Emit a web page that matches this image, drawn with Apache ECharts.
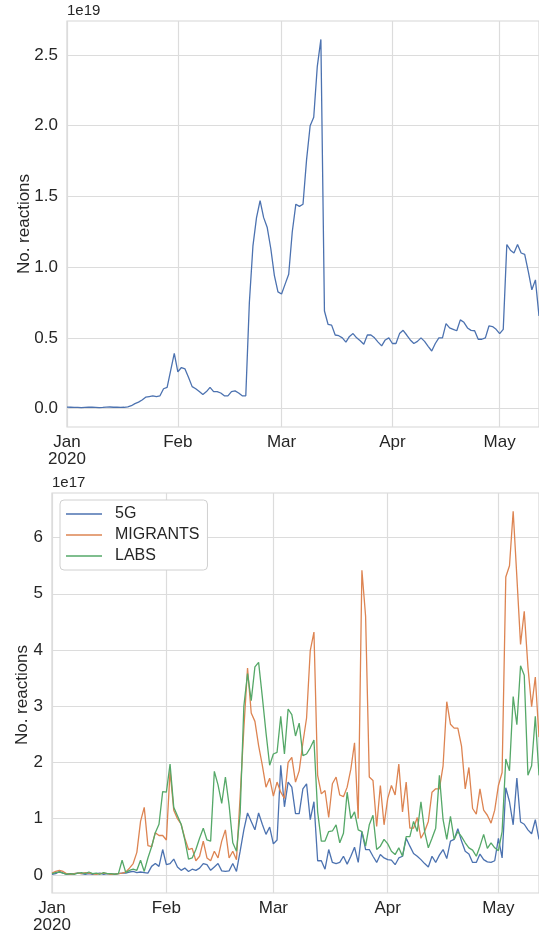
<!DOCTYPE html>
<html>
<head>
<meta charset="utf-8">
<script src="https://cdn.jsdelivr.net/npm/echarts@6/dist/echarts.min.js"></script>
<style>
html, body { margin: 0; padding: 0; background: #fff; }
#main { width: 539px; height: 934px; }
</style>
</head>
<body>
<div id="main"></div>
<script>
// daily values, Jan 1 - May 12 2020 (units: 1e19 on top, 1e17 below)
var total = [
  0.010, 0.009, 0.008, 0.008, 0.007, 0.008, 0.009, 0.009, 0.008, 0.007, 0.008, 0.010, 0.011, 0.009, 0.010, 0.008, 0.009, 0.012,
  0.02, 0.035, 0.045, 0.06, 0.08, 0.085, 0.09, 0.085, 0.09, 0.14, 0.15, 0.27, 0.39, 0.26, 0.29, 0.28,
  0.22, 0.155, 0.14, 0.12, 0.10, 0.12, 0.15, 0.12, 0.12, 0.11, 0.09, 0.09, 0.12, 0.125, 0.11, 0.09, 0.09,
  0.75, 1.15, 1.35, 1.47, 1.35, 1.28, 1.13, 0.94, 0.825, 0.81, 0.88, 0.95, 1.25, 1.445, 1.43, 1.445, 1.76, 2.0, 2.06, 2.42, 2.61,
  0.69, 0.596, 0.59, 0.52, 0.515, 0.50, 0.47, 0.51, 0.53, 0.50, 0.48, 0.455, 0.52, 0.52, 0.50, 0.47, 0.443, 0.485, 0.50, 0.46, 0.46,
  0.53, 0.553, 0.52, 0.485, 0.46, 0.475, 0.50, 0.475, 0.44, 0.407, 0.46, 0.50, 0.50, 0.60, 0.57, 0.56, 0.55, 0.627, 0.61, 0.57,
  0.553, 0.55, 0.49, 0.49, 0.50, 0.584, 0.58, 0.56, 0.53, 0.56, 1.16, 1.12, 1.10, 1.16, 1.10, 1.09, 0.97, 0.84, 0.91, 0.655
];

var fiveG = [
  0.01, 0.02, 0.06, 0.03, 0.01, 0.01, 0.02, 0.03, 0.02, 0.01, 0.02, 0.01, 0.02, 0.03, 0.01, 0.02, 0.01, 0.01,
  0.02, 0.03, 0.03, 0.05, 0.06, 0.04, 0.05, 0.04, 0.03, 0.15, 0.2, 0.15, 0.45, 0.18, 0.2, 0.28, 0.14, 0.08,
  0.12, 0.06, 0.1, 0.08, 0.12, 0.2, 0.18, 0.08, 0.14, 0.2, 0.07, 0.06, 0.07, 0.2, 0.06, 0.42,
  0.8, 1.1, 0.95, 0.8, 1.1, 0.9, 0.72, 0.85, 0.55, 0.62, 1.95, 1.21, 1.65, 1.56, 1.09, 1.09, 1.53, 1.62, 0.98, 1.3,
  0.25, 0.25, 0.1, 0.45, 0.22, 0.2, 0.22, 0.33, 0.19, 0.33, 0.49, 0.22, 0.77, 0.45, 0.45, 0.33, 0.22, 0.36, 0.3, 0.27,
  0.26, 0.18, 0.3, 0.33, 0.65, 0.51, 0.38, 0.33, 0.27, 0.2, 0.14, 0.33, 0.22, 0.35, 0.45, 0.29, 0.6, 0.63, 0.82, 0.6, 0.42, 0.37,
  0.22, 0.22, 0.37, 0.27, 0.23, 0.22, 0.25, 0.65, 0.3, 1.55, 1.3, 0.89, 1.72, 0.94, 0.9, 0.8, 0.73, 0.98, 0.63
];

var migrants = [
  0.03, 0.06, 0.08, 0.06, 0.02, 0.01, 0.02, 0.03, 0.02, 0.04, 0.03, 0.02, 0.01, 0.02, 0.03, 0.02, 0.01, 0.01,
  0.02, 0.03, 0.05, 0.12, 0.2, 0.4, 0.95, 1.2, 0.52, 0.5, 0.75, 0.7, 0.7, 0.62, 1.85, 1.15, 1.0, 0.9,
  0.65, 0.45, 0.47, 0.25, 0.33, 0.6, 0.3, 0.25, 0.42, 0.3, 0.6, 0.8, 0.3, 0.42, 0.27, 1.4,
  2.6, 3.68, 2.88, 2.73, 2.3, 1.95, 1.56, 1.72, 1.4, 1.65, 1.47, 1.36, 2.0, 2.09, 1.65, 1.85, 2.35, 2.79, 3.99, 4.32,
  1.77, 1.44, 1.5, 1.02, 1.62, 1.74, 1.42, 1.39, 1.56, 1.88, 2.35, 1.0, 5.42, 4.6, 1.74, 1.68, 0.86, 1.59, 0.89, 1.36,
  1.59, 1.42, 1.97, 1.12, 1.65, 0.83, 0.83, 1.02, 0.65, 0.77, 0.95, 1.47, 1.53, 1.53, 1.94, 3.08, 2.68, 2.61, 2.61, 2.29, 1.53, 1.91,
  1.18, 1.08, 1.53, 1.15, 1.06, 0.92, 1.15, 1.59, 1.82, 5.3, 5.5, 6.47, 5.3, 4.1, 4.69, 3.7, 2.99, 3.52, 2.45
];

var labs = [
  0.02, 0.04, 0.05, 0.03, 0.01, 0.02, 0.01, 0.03, 0.04, 0.02, 0.05, 0.02, 0.03, 0.01, 0.04, 0.02, 0.02, 0.01,
  0.02, 0.26, 0.04, 0.08, 0.1, 0.08, 0.26, 0.06, 0.3, 0.5, 0.75, 0.9, 1.48, 1.47, 1.97, 1.2, 1.05, 0.9,
  0.62, 0.28, 0.3, 0.45, 0.65, 0.83, 0.62, 0.6, 1.84, 1.6, 1.27, 1.74, 1.24, 0.57, 0.42, 1.1,
  3.0, 3.58, 3.1, 3.7, 3.78, 3.17, 2.53, 1.95, 2.15, 2.18, 2.82, 2.15, 2.95, 2.85, 2.47, 2.7, 2.12, 2.15, 2.26, 2.4,
  1.12, 0.6, 0.6, 0.77, 0.78, 0.89, 0.57, 0.74, 1.47, 1.0, 1.12, 0.8, 0.77, 0.51, 0.89, 1.06, 0.45, 0.51, 0.63, 0.55,
  0.42, 0.36, 0.48, 0.33, 0.68, 0.68, 0.95, 0.77, 1.3, 0.77, 0.48, 0.65, 0.83, 1.77, 0.98, 0.63, 1.04, 0.63, 0.77, 0.68, 0.57, 0.48,
  0.44, 0.33, 0.51, 0.72, 0.47, 0.57, 0.48, 0.43, 0.77, 2.06, 1.85, 3.17, 2.67, 3.72, 3.55, 1.77, 1.94, 2.82, 1.77
];

var topTicks = [0, 0.5, 1.0, 1.5, 2.0, 2.5];
var bottomTicks = [0, 1, 2, 3, 4, 5, 6];
var monthNames = ['Jan', 'Feb', 'Mar', 'Apr', 'May'];

// dates for the category axis
var days = [];
var t0 = Date.UTC(2020, 0, 1);
for (var i = 0; i < total.length; i++) {
  days.push(new Date(t0 + i * 86400000).toISOString().slice(0, 10));
}

var textColor = '#262626';
var gridColor = '#dcdcdc';

function monthStart(idx, val) {
  return val.slice(8, 10) === '01';
}

function xAxisFor(gi) {
  return {
    gridIndex: gi,
    type: 'category',
    data: days,
    boundaryGap: false,
    axisLine: { show: false },
    axisTick: { show: false },
    axisLabel: {
      interval: monthStart,
      fontSize: 17,
      fontFamily: 'Liberation Sans',
      color: textColor,
      margin: 7,
      lineHeight: 17,
      formatter: function (val, idx) {
        var m = monthNames[parseInt(val.slice(5, 7), 10) - 1];
        return idx === 0 ? m + '\n2020' : m;
      }
    },
    splitLine: { show: true, interval: monthStart, lineStyle: { color: gridColor, width: 1.2 } }
  };
}

function yAxisFor(gi, lo, hi, ticks, unit, fmt) {
  return {
    gridIndex: gi,
    type: 'value',
    min: lo,
    max: hi,
    name: unit,
    nameLocation: 'end',
    nameGap: 3,
    nameTextStyle: { align: 'left', fontSize: 15, fontFamily: 'Liberation Sans', color: textColor },
    axisLine: { show: false },
    axisTick: { show: false, customValues: ticks },
    axisLabel: {
      customValues: ticks,
      fontSize: 17,
      fontFamily: 'Liberation Sans',
      color: textColor,
      margin: 9,
      formatter: fmt
    },
    splitLine: { show: true, lineStyle: { color: gridColor, width: 1.2 } }
  };
}

function lineSeries(name, data, color, xi) {
  return {
    name: name,
    type: 'line',
    xAxisIndex: xi,
    yAxisIndex: xi,
    data: data,
    showSymbol: false,
    symbol: 'none',
    lineStyle: { color: color, width: 1.3 },
    itemStyle: { color: color },
    animation: false
  };
}

var chart = echarts.init(document.getElementById('main'));
var option = {
  backgroundColor: '#fff',
  animation: false,
  grid: [
    { left: 67, top: 21, right: 0, height: 406, show: true, borderColor: '#d6d6d6', borderWidth: 1.2 },
    { left: 52, top: 493, right: 0, height: 405, show: true, borderColor: '#d6d6d6', borderWidth: 1.2 }
  ],
  xAxis: [xAxisFor(0), xAxisFor(1)],
  yAxis: [
    yAxisFor(0, -0.1305, 2.7405, topTicks, '1e19', function (v) { return v.toFixed(1); }),
    yAxisFor(1, -0.3235, 6.7935, bottomTicks, '1e17', function (v) { return String(v); })
  ],
  legend: {
    data: ['5G', 'MIGRANTS', 'LABS'],
    orient: 'vertical',
    left: 60,
    top: 500,
    icon: 'rect',
    itemWidth: 36,
    itemHeight: 1.5,
    itemGap: 5,
    padding: [6, 8, 6, 6],
    backgroundColor: '#fff',
    borderColor: '#d0d0d0',
    borderWidth: 1,
    borderRadius: 4,
    textStyle: { fontSize: 16, fontFamily: 'Liberation Sans', color: textColor, padding: [0, 0, 0, 8] }
  },
  graphic: [
    {
      type: 'text', x: 24, y: 224, rotation: Math.PI / 2,
      style: { text: 'No. reactions', fontSize: 17, fontFamily: 'Liberation Sans', fill: textColor, align: 'center', verticalAlign: 'middle' }
    },
    {
      type: 'text', x: 22, y: 695, rotation: Math.PI / 2,
      style: { text: 'No. reactions', fontSize: 17, fontFamily: 'Liberation Sans', fill: textColor, align: 'center', verticalAlign: 'middle' }
    }
  ],
  series: [
    lineSeries('total', total, '#4c72b0', 0),
    lineSeries('5G', fiveG, '#4c72b0', 1),
    lineSeries('MIGRANTS', migrants, '#dd8452', 1),
    lineSeries('LABS', labs, '#55a868', 1)
  ]
};
chart.setOption(option);
</script>
</body>
</html>
